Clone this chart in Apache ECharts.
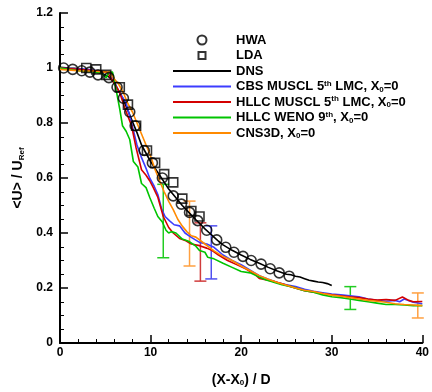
<!DOCTYPE html>
<html>
<head>
<meta charset="utf-8">
<script src="https://cdn.jsdelivr.net/npm/echarts@6/dist/echarts.min.js"></script>
<style>
  html, body { margin: 0; padding: 0; background: #fff; }
  #chart { width: 432px; height: 392px; }
</style>
</head>
<body>
<div id="chart"></div>
<script>
// measured points (X-X0)/D , <U>/URef
var hwa = [[0.4,1.0],[1.4,0.995],[2.4,0.99],[3.3,0.985],[4.2,0.975],[5.4,0.965],[6.3,0.93],[7.0,0.89],[7.7,0.84],[8.3,0.79],[9.3,0.70],[10.2,0.655],[11.3,0.60],[12.5,0.535],[13.4,0.505],[14.3,0.475],[15.2,0.445],[16.2,0.41],[17.3,0.375],[18.3,0.348],[19.2,0.33],[20.2,0.315],[21.1,0.30],[22.2,0.287],[23.2,0.27],[24.2,0.255],[25.3,0.243]];
var lda = [[2.9,1.0],[4.0,0.995],[5.1,0.975],[6.6,0.93],[7.5,0.867],[8.4,0.79],[9.6,0.70],[10.5,0.655],[11.5,0.614],[12.5,0.584],[13.5,0.525],[14.5,0.48],[15.4,0.46]];

var dns = [[0,1.003],[1,1.0],[2,0.998],[3,0.993],[3.5,0.99],[4,0.988],[4.5,0.982],[5,0.975],[5.5,0.965],[6,0.945],[6.5,0.915],[7,0.885],[7.5,0.845],[8,0.805],[8.5,0.765],[9,0.72],[9.5,0.69],[10,0.66],[10.5,0.635],[11,0.61],[11.5,0.585],[12,0.56],[12.5,0.54],[13,0.52],[13.5,0.5],[14,0.483],[14.5,0.465],[15,0.448],[15.5,0.432],[16,0.415],[16.5,0.4],[17,0.385],[17.5,0.37],[18,0.357],[19,0.337],[20,0.32],[21,0.304],[22,0.29],[23,0.275],[24,0.262],[25,0.25],[25.5,0.248],[26,0.243],[26.5,0.24],[27,0.234],[27.5,0.228],[28,0.225],[28.5,0.222],[29,0.22],[29.5,0.216],[30,0.209]];

var cbsMuscl = [[0,1.0],[3,0.995],[5,0.985],[5.7,0.976],[6.4,0.92],[7.3,0.873],[7.9,0.8],[8.5,0.72],[9,0.674],[9.5,0.635],[9.9,0.6],[10.4,0.57],[10.8,0.54],[11.2,0.49],[11.6,0.46],[12.1,0.444],[12.6,0.43],[13.2,0.426],[13.8,0.4],[14.5,0.384],[15.4,0.366],[16.2,0.36],[17,0.348],[18,0.32],[19,0.3],[20,0.285],[21,0.265],[22,0.245],[23,0.232],[24,0.22],[25,0.212],[26,0.205],[27,0.195],[28,0.188],[29,0.183],[30,0.178],[31,0.175],[32,0.172],[33,0.168],[34,0.16],[35,0.155],[36,0.152],[37,0.155],[37.5,0.15],[38,0.16],[39,0.148],[40,0.143]];

var hllcMuscl = [[0,1.0],[2,0.995],[4,0.99],[5.2,0.985],[5.5,0.97],[5.9,0.95],[6.6,0.91],[7.2,0.85],[7.9,0.79],[8.4,0.71],[9,0.63],[9.5,0.61],[9.9,0.59],[10.3,0.565],[10.8,0.53],[11.4,0.46],[12,0.42],[12.5,0.4],[13.2,0.38],[13.9,0.372],[14.5,0.36],[15.4,0.354],[16.2,0.345],[16.8,0.336],[17.5,0.32],[18.5,0.3],[19.5,0.285],[20.5,0.27],[21.5,0.25],[22,0.235],[22.7,0.23],[23.5,0.225],[24.5,0.215],[25.5,0.205],[27,0.19],[28,0.185],[29,0.18],[30,0.175],[31,0.172],[32,0.168],[33,0.165],[34,0.16],[35,0.156],[36,0.158],[37,0.155],[37.8,0.167],[38.5,0.155],[39,0.15],[40,0.151]];

var hllcWeno = [[0,1.0],[2,0.99],[4,0.985],[4.6,0.98],[5.1,0.965],[5.4,0.985],[5.8,0.985],[6.2,0.92],[6.6,0.85],[6.9,0.79],[7.3,0.77],[7.7,0.74],[8.1,0.66],[8.6,0.64],[9,0.58],[9.5,0.565],[9.9,0.53],[10.4,0.49],[10.8,0.46],[11.3,0.44],[11.7,0.41],[12,0.4],[12.3,0.405],[12.8,0.4],[13.5,0.378],[14.2,0.37],[15,0.352],[15.4,0.336],[16,0.33],[16.3,0.312],[17,0.306],[18,0.29],[19,0.275],[20,0.26],[21,0.255],[22,0.24],[22.7,0.23],[23.5,0.222],[24.5,0.212],[25.5,0.205],[27,0.19],[28,0.185],[29,0.175],[30,0.168],[31,0.165],[32,0.16],[33,0.155],[34,0.15],[35,0.145],[36,0.14],[37,0.14],[38,0.138],[39,0.136],[40,0.136]];

var cns3d = [[0,0.995],[2,0.99],[4,0.988],[5,0.985],[5.5,0.985],[6,0.96],[6.5,0.94],[7,0.91],[7.5,0.87],[8,0.84],[8.5,0.8],[9,0.76],[9.5,0.72],[10,0.68],[10.5,0.63],[11,0.59],[11.5,0.55],[12,0.515],[12.5,0.485],[13,0.45],[13.5,0.425],[14,0.405],[14.5,0.39],[15,0.385],[16,0.36],[17,0.335],[18,0.315],[19,0.3],[20,0.28],[21,0.263],[22,0.245],[23,0.232],[24,0.22],[25,0.21],[26,0.2],[27,0.192],[28,0.187],[29,0.18],[30,0.174],[31,0.17],[32,0.165],[33,0.16],[34,0.155],[35,0.152],[36,0.148],[37,0.143],[38,0.14],[39,0.138],[40,0.136]];

// error bars: [x, low, high]
var cbsErr = [[16.7,0.233,0.426]];
var hllcErr = [[15.5,0.225,0.437]];
var wenoErr = [[11.4,0.31,0.577],[32.05,0.122,0.205]];
var cnsErr = [[14.3,0.28,0.516],[39.5,0.091,0.182]];

var chart = echarts.init(document.getElementById('chart'));

function errorBar(color) {
    return function (params, api) {
        var x = api.value(0);
        var lo = api.coord([x, api.value(1)]);
        var hi = api.coord([x, api.value(2)]);
        var w = 6;
        var st = { stroke: color, lineWidth: 1.5 };
        return {
            type: 'group',
            children: [
                { type: 'line', shape: { x1: lo[0], y1: lo[1], x2: hi[0], y2: hi[1] }, style: st },
                { type: 'line', shape: { x1: lo[0] - w, y1: lo[1], x2: lo[0] + w, y2: lo[1] }, style: st },
                { type: 'line', shape: { x1: hi[0] - w, y1: hi[1], x2: hi[0] + w, y2: hi[1] }, style: st }
            ]
        };
    };
}

function lineSeries(name, data, color) {
    return {
        name: name,
        type: 'line',
        data: data,
        symbol: 'none',
        lineStyle: { color: color, width: 1.6 },
        itemStyle: { color: color },
        z: 3
    };
}

function errSeries(data, color) {
    return {
        type: 'custom',
        data: data,
        renderItem: errorBar(color),
        silent: true,
        z: 2
    };
}

var font = 'Liberation Sans, Arial, sans-serif';
var subStyle = {
    sup: { fontSize: 8, fontWeight: 'bold', fontFamily: font, verticalAlign: 'top', lineHeight: 8 },
    sub: { fontSize: 8, fontWeight: 'bold', fontFamily: font, verticalAlign: 'bottom', lineHeight: 8 }
};
var lineIcon = 'path://M0,0H58V2H0Z';
// padded boxes so the legend markers come out smaller than the item height
var circleIcon = 'path://M0,0M10,10M5,0.5A4.5,4.5,0,1,1,4.99,0.5Z';
var squareIcon = 'path://M0,0M10,10M1.5,1.5H8.5V8.5H1.5Z';

var option = {
    animation: false,
    textStyle: { fontFamily: font },
    grid: { left: 60, right: 8, top: 13, bottom: 48 },
    legend: {
        orient: 'vertical',
        left: 168,
        top: 28,
        itemWidth: 58,
        itemHeight: 10,
        itemGap: 1.5,
        textStyle: {
            fontSize: 13, fontWeight: 'bold', color: '#000', lineHeight: 14, rich: subStyle
        },
        formatter: function (name) {
            var map = {
                'CBS MUSCL 5th LMC, X0=0': 'CBS MUSCL 5{sup|th} LMC, X{sub|0}=0',
                'HLLC MUSCL 5th LMC, X0=0': 'HLLC MUSCL 5{sup|th} LMC, X{sub|0}=0',
                'HLLC WENO 9th, X0=0': 'HLLC WENO 9{sup|th}, X{sub|0}=0',
                'CNS3D, X0=0': 'CNS3D, X{sub|0}=0'
            };
            return map[name] || name;
        },
        data: [
            { name: 'HWA', icon: circleIcon },
            { name: 'LDA', icon: squareIcon },
            { name: 'DNS', icon: lineIcon },
            { name: 'CBS MUSCL 5th LMC, X0=0', icon: lineIcon },
            { name: 'HLLC MUSCL 5th LMC, X0=0', icon: lineIcon },
            { name: 'HLLC WENO 9th, X0=0', icon: lineIcon },
            { name: 'CNS3D, X0=0', icon: lineIcon }
        ]
    },
    xAxis: {
        type: 'value',
        min: 0, max: 40, interval: 10,
        name: '(X-X{sub|0}) / D',
        nameLocation: 'middle',
        nameGap: 30,
        nameTextStyle: { fontSize: 14, fontWeight: 'bold', color: '#000', rich: subStyle },
        axisLine: { lineStyle: { color: '#000', width: 2 } },
        axisTick: { inside: true, length: 8, lineStyle: { color: '#000', width: 1.5 } },
        minorTick: { show: true, splitNumber: 5, length: 4, lineStyle: { color: '#000', width: 1 } },
        axisLabel: { fontSize: 12, fontWeight: 'bold', color: '#000', margin: 4 },
        splitLine: { show: false }
    },
    yAxis: {
        type: 'value',
        min: 0, max: 1.2, interval: 0.2,
        name: '<U> / U{sub|Ref}',
        nameLocation: 'middle',
        nameGap: 34,
        nameRotate: 90,
        nameTextStyle: { fontSize: 14, fontWeight: 'bold', color: '#000', rich: subStyle },
        axisLine: { lineStyle: { color: '#000', width: 2 } },
        axisTick: { inside: true, length: 8, lineStyle: { color: '#000', width: 1.5 } },
        minorTick: { show: true, splitNumber: 4, length: 4, lineStyle: { color: '#000', width: 1 } },
        axisLabel: { fontSize: 12, fontWeight: 'bold', color: '#000', margin: 7 },
        splitLine: { show: false }
    },
    series: [
        {
            name: 'HWA', type: 'scatter', data: hwa, symbol: 'circle', symbolSize: 10,
            itemStyle: { color: 'rgba(0,0,0,0)', borderColor: '#000', borderWidth: 1.6 }, z: 4
        },
        {
            name: 'LDA', type: 'scatter', data: lda, symbol: 'rect', symbolSize: 9,
            itemStyle: { color: 'rgba(0,0,0,0)', borderColor: '#000', borderWidth: 1.6 }, z: 4
        },
        lineSeries('DNS', dns, '#000000'),
        lineSeries('CBS MUSCL 5th LMC, X0=0', cbsMuscl, '#3c3cff'),
        lineSeries('HLLC MUSCL 5th LMC, X0=0', hllcMuscl, '#d40000'),
        lineSeries('HLLC WENO 9th, X0=0', hllcWeno, '#00c400'),
        lineSeries('CNS3D, X0=0', cns3d, '#ff8a00'),
        errSeries(cbsErr, '#5050f0'),
        errSeries(hllcErr, '#d03c3c'),
        errSeries(wenoErr, '#22cc22'),
        errSeries(cnsErr, '#ffa040')
    ]
};

chart.setOption(option);
</script>
</body>
</html>
